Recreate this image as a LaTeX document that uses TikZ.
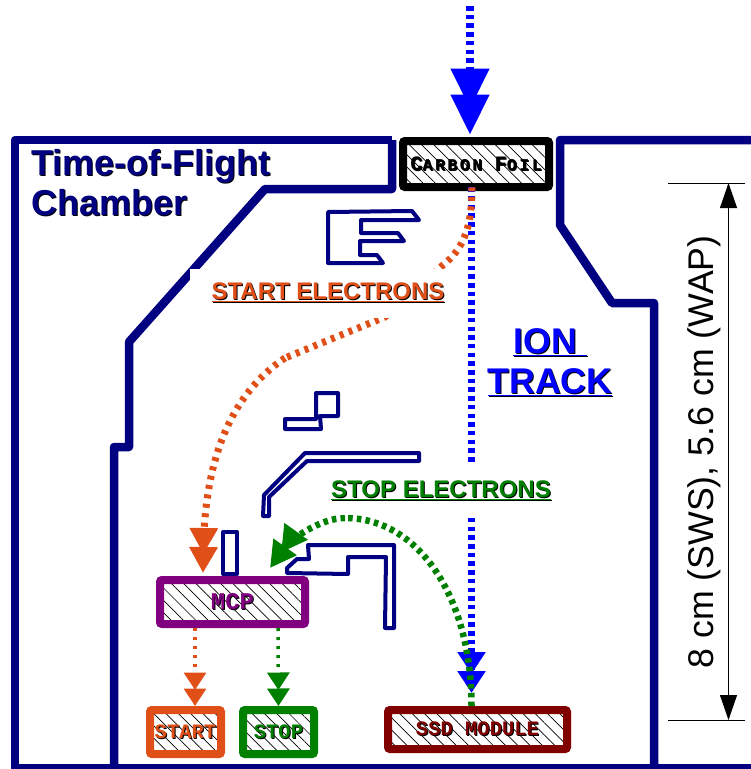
\documentclass[tikz,border=0pt]{standalone}
\usepackage{fontspec}
\setmainfont{Liberation Sans}
\newfontfamily\slabfont{Liberation Mono}
\usetikzlibrary{arrows.meta,patterns.meta}
\definecolor{tofnavy}{HTML}{000080}
\definecolor{tofblue}{HTML}{0000FF}
\definecolor{toforange}{HTML}{E04F17}
\definecolor{tofgreen}{HTML}{008000}
\definecolor{tofpurple}{HTML}{800080}
\definecolor{tofmaroon}{HTML}{800000}
\newcommand{\shadetxt}[1]{\leavevmode\rlap{\raisebox{-1pt}{\hspace*{1pt}\color{black}#1}}#1}
\newcommand{\slabtxt}[1]{\raisebox{-1.5pt}{\shadetxt{#1}}}
\newcommand{\slabsize}[1]{\fontsize{#1}{#1}\selectfont}
\newcommand{\lowcaps}[1]{{\slabsize{16.5}\addfontfeature{LetterSpace=15.5}#1}}

\begin{document}
\begin{tikzpicture}[x=1pt,y=-1pt]
\tikzset{
  wall/.style={draw=tofnavy,line width=8.5pt,line join=round},
  electrode/.style={draw=tofnavy,line width=4pt,line join=round},
  hatchbox/.style={draw,line width=8pt,rounded corners=2pt,inner sep=0pt,
    pattern={Lines[angle=-45,distance=8.7pt,line width=0.7pt]},
    font=\slabfont\bfseries\slabsize{20.5}},
  iontrack/.style={draw=tofblue,line width=7.5pt,dash pattern=on 4.5pt off 4.2pt},
  startpath/.style={draw=toforange,line width=7pt,dash pattern=on 4pt off 5.5pt},
  stoppath/.style={draw=tofgreen,line width=6.5pt,dash pattern=on 4.5pt off 4.2pt},
  signal/.style={line width=3.5pt,dash pattern=on 3pt off 6pt},
  bigtips/.style={-{Triangle[length=40pt,width=37pt,sep=-14pt]Triangle[length=40pt,width=37pt]},tofblue},
  midtips/.style={-{Triangle[length=26pt,width=27pt,sep=-7pt]Triangle[length=26pt,width=27pt]}},
  smalltips/.style={-{Triangle[length=17.5pt,width=22pt,sep=-1.5pt]Triangle[length=17.5pt,width=22pt]}},
  tracklabel/.style={fill=white,inner sep=0pt,minimum height=49pt,font=\bfseries\fontsize{24}{24}\selectfont},
  measure/.style={draw=black,line width=1pt}
}
\useasboundingbox (0,0) rectangle (751,769);
\draw[wall] (392,140) -- (15,140) -- (15,768) -- (751,768);
\draw[wall] (392,140) -- (392,189) -- (265,189) -- (129,342) -- (129,447) -- (114,447) -- (114,768);
\draw[wall] (751,140) -- (560,140) -- (560,225) -- (612,303) -- (654,303) -- (654,768);
\draw[electrode] (328,212) -- (412,211) -- (419,220) -- (361,220) -- (361,233) -- (398,233) -- (404,241) -- (360,241) -- (360,255) -- (377,255) -- (383,263) -- (328,263) -- cycle;
\draw[electrode] (316,393) -- (338,393) -- (338,416) -- (320,416) -- (321,429) -- (285,429) -- (285,419) -- (316,419) -- cycle;
\draw[electrode] (264,495) -- (305,453) -- (419,453) -- (419,461) -- (307,461) -- (269,497) -- (269,516) -- (263,516) -- cycle;
\draw[electrode] (223,532) rectangle (237,574);
\draw[electrode] (308,545) -- (394,545) -- (394,628) -- (385,628) -- (386,557) -- (348,557) -- (348,574) -- (287,573) -- (287,568) -- (297,559) -- (309,559) -- cycle;
\node[hatchbox,draw=black,text=black,minimum width=146pt,minimum height=46pt] (n_foil) at (476,164)
  {\slabtxt{C\lowcaps{ARBON} F\lowcaps{OIL}}};
\node[hatchbox,draw=tofpurple,text=tofpurple,minimum width=145pt,minimum height=44pt,font=\slabfont\bfseries\slabsize{24}] (n_mcp) at (232.5,602) {\slabtxt{MCP}};
\node[hatchbox,draw=toforange,text=toforange,minimum width=71pt,minimum height=44pt] (n_start) at (185.5,732) {\slabtxt{START}};
\node[hatchbox,draw=tofgreen,text=tofgreen,minimum width=71pt,minimum height=44pt] (n_stop) at (278.5,732) {\slabtxt{STOP}};
\node[hatchbox,draw=tofmaroon,text=tofmaroon,minimum width=179pt,minimum height=39pt] (n_ssd) at (477.5,729.5) {\slabtxt{SSD MODULE}};
\coordinate (c_top) at (470,6);
\coordinate (c_upper) at (443,265);
\coordinate (c_lower) at (385,317);
\coordinate (c_bend) at (285,358);
\coordinate (c_arc) at (345,518);
\draw[iontrack,bigtips,shorten >=6pt] (c_top) -- (c_top |- n_foil.north);
\draw[iontrack,-{Triangle[length=22pt,width=27pt,sep=-3pt]Triangle[length=22pt,width=27pt]},shorten >=13pt] ([xshift=-4.5pt]n_foil.south) -- ([xshift=-6pt]n_ssd.north);
\draw[startpath] ([xshift=-4pt]n_foil.south) .. controls (472,230) and (462,250) .. (c_upper) -- (c_lower) -- (c_bend);
\draw[startpath,midtips,toforange] (c_bend) .. controls (230,395) and (205,460) .. (203,573);
\draw[stoppath] ([xshift=-6pt]n_ssd.north) .. controls (472,600) and (420,518) .. (c_arc);
\draw[stoppath,midtips,tofgreen] (c_arc) .. controls (320,518) and (290,540) .. (270,568);
\draw[signal,toforange,smalltips] ([xshift=-37.5pt]n_mcp.south) -- ([xshift=9.5pt]n_start.north);
\draw[signal,tofgreen,smalltips] ([xshift=45.5pt]n_mcp.south) -- (n_stop.north);
\node[tracklabel,text=toforange,minimum width=276pt] (n_startlabel) at (328,293) {\shadetxt{\underline{START ELECTRONS}}};
\node[tracklabel,text=tofgreen,minimum width=262pt] (n_stoplabel) at (441,490.5) {\shadetxt{\underline{STOP ELECTRONS}}};
\node[inner sep=0pt,align=left,anchor=north west,text=tofnavy,font=\bfseries\fontsize{36}{40}\selectfont] (n_title) at (31,149) {\shadetxt{Time-of-Flight}\\\shadetxt{Chamber}};
\node[inner sep=0pt,align=center,text=tofblue,font=\bfseries\fontsize{35.7}{40}\selectfont] (n_ion) at (550,363) {\shadetxt{\underline{ION~}}\\\shadetxt{\underline{TRACK}}};
\coordinate (c_ticka) at (668,183);
\coordinate (c_tickb) at (668,720);
\draw[measure] (c_ticka) -- ++(77,0);
\draw[measure] (c_tickb) -- ++(77,0);
\draw[measure,{Stealth[length=25pt,width=17pt,inset=0pt]}-{Stealth[length=25pt,width=17pt,inset=0pt]}] ([xshift=60.5pt]c_ticka) -- ([xshift=60.5pt]c_tickb);
\node[rotate=90,inner sep=0pt,font=\fontsize{35.7}{36}\selectfont] (n_size) at (704,452) {8 cm (SWS), 5.6 cm (WAP)};
\end{tikzpicture}
\end{document}
